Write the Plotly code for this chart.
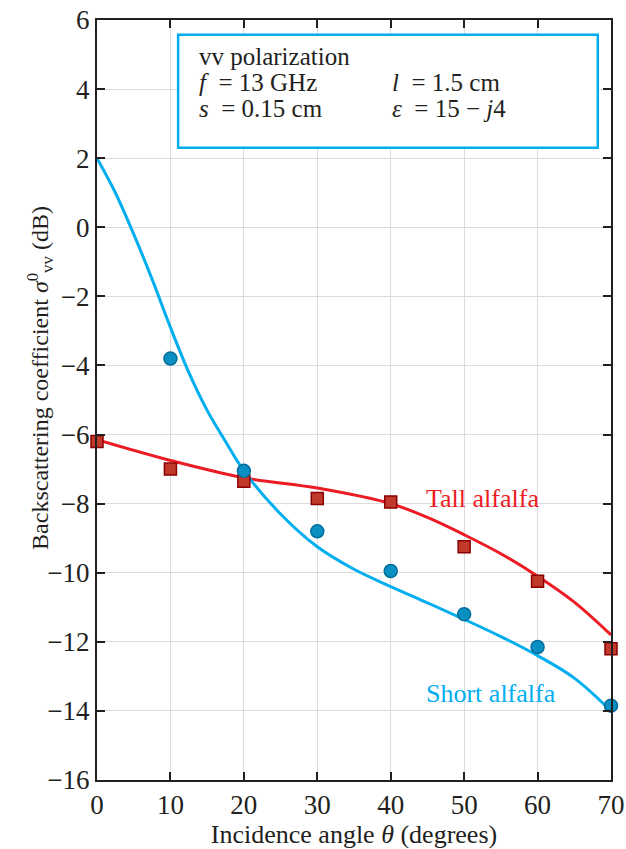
import plotly.graph_objects as go

# Measured data
tall_x = [0, 10, 20, 30, 40, 50, 60, 70]
tall_y = [-6.2, -7.0, -7.35, -7.85, -7.95, -9.25, -10.25, -12.2]
short_x = [10, 20, 30, 40, 50, 60, 70]
short_y = [-3.8, -7.05, -8.8, -9.95, -11.2, -12.15, -13.85]

# Model curves
tall_curve_x = [0, 10, 20, 30, 40, 45, 50, 55, 60, 65, 70]
tall_curve_y = [-6.15, -6.75, -7.25, -7.55, -8.0, -8.4, -8.9, -9.45, -10.1, -10.85, -11.8]
short_curve_x = [0, 2.5, 5, 7.5, 10, 12.5, 15, 17.5, 20, 25, 30, 35, 40, 45, 50, 55, 60, 65, 70]
short_curve_y = [2.0, 1.0, -0.2, -1.5, -2.9, -4.2, -5.3, -6.2, -7.05, -8.3, -9.25, -9.9,
                 -10.4, -10.87, -11.35, -11.85, -12.4, -13.05, -14.0]

x_ticks = [0, 10, 20, 30, 40, 50, 60, 70]
y_ticks = [6, 4, 2, 0, -2, -4, -6, -8, -10, -12, -14, -16]

RED = "#ED1C24"
BLUE = "#00AEEF"
INK = "#231F20"
FONT = "Liberation Serif"

fig = go.Figure()
fig.add_trace(go.Scatter(x=tall_curve_x, y=tall_curve_y, mode="lines",
                         line=dict(color=RED, width=3, shape="spline", smoothing=1.0),
                         showlegend=False, hoverinfo="skip"))
fig.add_trace(go.Scatter(x=short_curve_x, y=short_curve_y, mode="lines",
                         line=dict(color=BLUE, width=3, shape="spline", smoothing=1.0),
                         showlegend=False, hoverinfo="skip"))
fig.add_trace(go.Scatter(x=tall_x, y=tall_y, mode="markers", cliponaxis=False,
                         marker=dict(symbol="square", size=12, color="#C0392B",
                                     line=dict(color="#8B0000", width=1.5)),
                         showlegend=False))
fig.add_trace(go.Scatter(x=short_x, y=short_y, mode="markers", cliponaxis=False,
                         marker=dict(symbol="circle", size=13, color="#0A8FC2",
                                     line=dict(color="#006E9A", width=1.5)),
                         showlegend=False))

fig.add_shape(type="rect", xref="x", yref="y", x0=11.05, x1=68.2, y0=2.3, y1=5.57,
              line=dict(color=BLUE, width=2.5), fillcolor="white", layer="above")

txt = dict(family=FONT, size=25, color=INK)
ann = [
    (13.6, 4.93, "vv polarization"),
    (13.6, 4.18, "<i>f</i>  = 13 GHz"),
    (13.6, 3.45, "<i>s</i>  = 0.15 cm"),
    (39.9, 4.18, "<i>l</i>  = 1.5 cm"),
    (39.9, 3.45, "<i>ε</i>  = 15 − <i>j</i>4"),
]
for x, y, t in ann:
    fig.add_annotation(x=x, y=y, xref="x", yref="y", text=t, showarrow=False,
                       xanchor="left", yanchor="middle", font=txt)

fig.add_annotation(x=44.6, y=-7.85, xref="x", yref="y", text="Tall alfalfa", showarrow=False,
                   xanchor="left", yanchor="middle", font=dict(family=FONT, size=26, color=RED))
fig.add_annotation(x=44.5, y=-13.5, xref="x", yref="y", text="Short alfalfa", showarrow=False,
                   xanchor="left", yanchor="middle", font=dict(family=FONT, size=26, color=BLUE))

# y-axis title placed as a rotated annotation
fig.add_annotation(x=-0.111, y=0.529, xref="paper", yref="paper", textangle=-90,
                   text="Backscattering coefficient <i>σ</i><sup>0</sup><sub>vv</sub> (dB)",
                   showarrow=False, xanchor="center", yanchor="middle",
                   font=dict(family=FONT, size=24, color=INK))

axis_common = dict(showline=True, linecolor=INK, linewidth=2, mirror="ticks",
                   ticks="inside", ticklen=8, tickwidth=1.5, tickcolor=INK,
                   showgrid=True, gridcolor="#DCDCDC", gridwidth=1, zeroline=False,
                   automargin=False, ticklabeloverflow="allow",
                   tickfont=dict(family=FONT, size=27, color=INK))

fig.update_xaxes(range=[0, 70], tickvals=x_ticks, ticktext=[str(v) for v in x_ticks],
                 title=dict(text="Incidence angle <i>θ</i> (degrees)",
                            font=dict(family=FONT, size=26, color=INK)),
                 **axis_common)
fig.update_yaxes(range=[-16, 6], tickvals=y_ticks,
                 ticktext=[str(v).replace("-", "−") for v in y_ticks],
                 **axis_common)

fig.update_layout(width=626, height=849, plot_bgcolor="white", paper_bgcolor="white",
                  margin=dict(l=97, r=15, t=20, b=69), showlegend=False)

# remove the default 8px page margin so the figure sits at the window's top-left corner
fig.write_html("out.html", config={"displayModeBar": False},
               post_script="document.body.style.margin='0';document.body.style.overflow='hidden';")
